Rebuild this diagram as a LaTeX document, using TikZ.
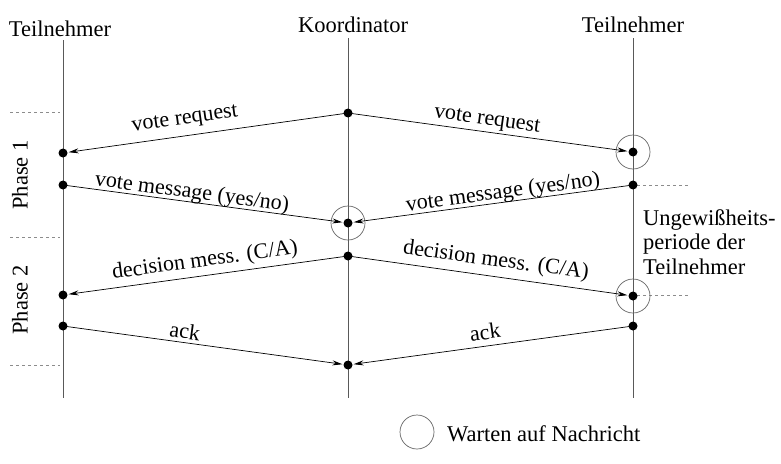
\documentclass[tikz,border=0pt]{standalone}
\usepackage{fontspec}
\setmainfont{Liberation Serif}
\usetikzlibrary{arrows.meta}
\begin{document}
\begin{tikzpicture}[x=1pt,y=-1pt,
  every node/.style={font=\fontsize{22.5}{25}\selectfont, inner sep=1pt},
  life/.style={draw=black!65, line width=0.8pt},
  msg/.style={draw=black, line width=0.7pt, -{Stealth[length=10pt,width=5pt]}, shorten >=1pt},
  dot/.style={circle, fill=black, inner sep=0pt, minimum size=9pt},
  wait/.style={circle, draw=black!60, line width=0.7pt, inner sep=0pt, minimum size=34pt},
  phase/.style={draw=black!45, dashed, line width=0.7pt},
  lbl/.style={inner sep=0pt, font=\fontsize{22}{24}\selectfont}]
\useasboundingbox (0,0) rectangle (781,463);
% headers
\node (hl) at (60,29) {Teilnehmer};
\node (hk) at (353,25) {Koordinator};
\node (hr) at (633,25) {Teilnehmer};
% lifelines
\coordinate (lt) at (63,40); \coordinate (lb) at (63,398);
\coordinate (mt) at (348,38); \coordinate (mb) at (348,398);
\coordinate (rt) at (633,38); \coordinate (rb) at (633,398);
\draw[life] (lt) -- (lb);
\draw[life] (mt) -- (mb);
\draw[life] (rt) -- (rb);
% phase separators
\coordinate (p1a) at (10,112); \coordinate (p1b) at (60,112);
\coordinate (p2a) at (10,237); \coordinate (p2b) at (60,237);
\coordinate (p3a) at (10,365); \coordinate (p3b) at (60,365);
\coordinate (q1a) at (637,185); \coordinate (q1b) at (690,185);
\coordinate (q2a) at (637,295); \coordinate (q2b) at (690,295);
\draw[phase] (p1a) -- (p1b);
\draw[phase] (p2a) -- (p2b);
\draw[phase] (p3a) -- (p3b);
\draw[phase] (q1a) -- (q1b);
\draw[phase] (q2a) -- (q2b);
% phase labels
\node[rotate=90] (ph1) at (20,175) {Phase 1};
\node[rotate=90] (ph2) at (20,300) {Phase 2};
% wait circles
\node[wait] (w1) at (633,152) {};
\node[wait] (w2) at (348,223) {};
\node[wait] (w3) at (633,296) {};
% dots
\node[dot] (m1) at (348,113) {};
\node[dot] (l1) at (63,153) {};
\node[dot] (r1) at (633,152) {};
\node[dot] (l2) at (63,185) {};
\node[dot] (r2) at (633,185) {};
\node[dot] (m2) at (348,223) {};
\node[dot] (m3) at (348,256) {};
\node[dot] (l3) at (63,295) {};
\node[dot] (r3) at (633,296) {};
\node[dot] (l4) at (63,326) {};
\node[dot] (r4) at (633,326) {};
\node[dot] (m4) at (348,365) {};
% messages
\draw[msg] (m1.center) -- (l1);
\draw[msg] (m1.center) -- (r1);
\draw[msg] (l2.center) -- (m2);
\draw[msg] (r2.center) -- (m2);
\draw[msg] (m3.center) -- (l3);
\draw[msg] (m3.center) -- (r3);
\draw[msg] (l4.center) -- (m4);
\draw[msg] (r4.center) -- (m4);
% message labels
\node[lbl, rotate=8] (t1) at (185,120) {vote request};
\node[lbl, rotate=-8] (t2) at (487,121) {vote request};
\node[lbl, rotate=-7.6] (t3) at (192,193) {vote message (yes/no)};
\node[lbl, rotate=7.6] (t4) at (503,193) {vote message (yes/no)};
\node[lbl, rotate=7.8] (t5) at (205,261) {decision mess. (C/A)};
\node[lbl, rotate=-7.8] (t6) at (496,261) {decision mess. (C/A)};
\node[lbl, rotate=-7.8] (t7) at (185,331) {ack};
\node[lbl, rotate=7.8] (t8) at (485,332) {ack};
% uncertainty
\node[align=left, anchor=west, inner sep=0pt, font=\fontsize{22.5}{24.5}\selectfont] (u) at (643,242) {Ungewißheits-\\periode der\\Teilnehmer};
% legend
\node[wait] (lg) at (417,432) {};
\node[anchor=west] (lgt) at (446,434) {Warten auf Nachricht};
\end{tikzpicture}
\end{document}
